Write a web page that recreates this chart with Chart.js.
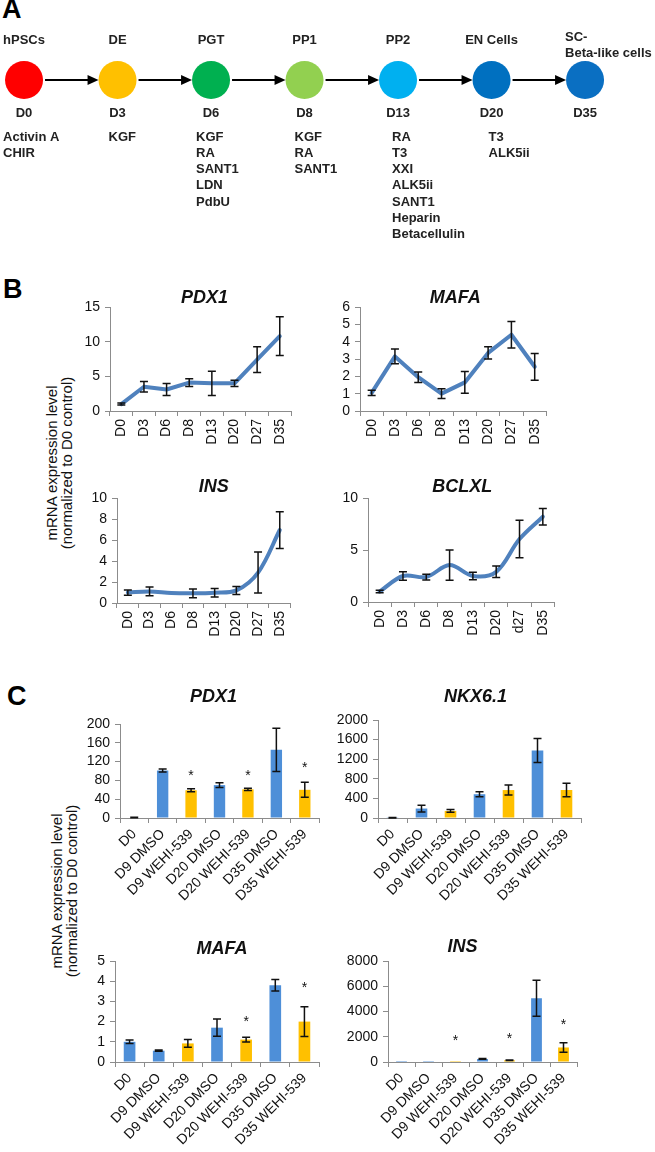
<!DOCTYPE html>
<html>
<head>
<meta charset="utf-8">
<script src="https://cdn.jsdelivr.net/npm/chart.js@4.4.1/dist/chart.umd.min.js"></script>
<style>
  body { margin: 0; background: #fff; width: 655px; height: 1152px; position: relative; overflow: hidden;
         font-family: Arial, "Liberation Sans", sans-serif; }
  canvas { position: absolute; }
  .lbl { position: absolute; font-weight: bold; font-size: 27px; line-height: 27px; color: #000; }
  .ytitle { position: absolute; width: 260px; height: 30px; text-align: center; font-size: 15px; line-height: 15px;
            transform: rotate(-90deg); color: #111; }
</style>
</head>
<body>
<div class="lbl" style="left:2px;top:-4px">A</div>
<div class="lbl" style="left:3px;top:276px">B</div>
<div class="lbl" style="left:7px;top:683px">C</div>
<div class="ytitle" style="left:-71px;top:448px">mRNA expression level<br>(normalized to D0 control)</div>
<div class="ytitle" style="left:-66px;top:876px">mRNA expression level<br>(normalized to D0 control)</div>

<script>
// panel A: differentiation protocol
const stages = ['hPSCs', 'DE', 'PGT', 'PP1', 'PP2', 'EN Cells', ['SC-', 'Beta-like cells']];
const stageDays = ['D0', 'D3', 'D6', 'D8', 'D13', 'D20', 'D35'];
const stageFactors = [
  ['Activin A', 'CHIR'],
  ['KGF'],
  ['KGF', 'RA', 'SANT1', 'LDN', 'PdbU'],
  ['KGF', 'RA', 'SANT1'],
  ['RA', 'T3', 'XXI', 'ALK5ii', 'SANT1', 'Heparin', 'Betacellulin'],
  ['T3', 'ALK5ii'],
  []
];
const stageColors = ['#ff0000', '#ffc000', '#00b050', '#92d050', '#00b0f0', '#0070c0', '#0a6fc2'];

// panel B: time course
const timeDays = ['D0', 'D3', 'D6', 'D8', 'D13', 'D20', 'D27', 'D35'];
const timeDaysBclxl = ['D0', 'D3', 'D6', 'D8', 'D13', 'D20', 'd27', 'D35'];
const pdx1Time = [1.0, 3.5, 3.1, 4.1, 4.0, 4.0, 7.4, 10.8];
const pdx1TimeErr = [0.15, 0.75, 0.85, 0.55, 1.75, 0.45, 1.85, 2.8];
const mafaTime = [1.05, 3.15, 1.95, 1.0, 1.65, 3.35, 4.4, 2.55];
const mafaTimeErr = [0.15, 0.42, 0.3, 0.28, 0.63, 0.35, 0.77, 0.77];
const insTime = [1.0, 1.1, 0.95, 0.92, 0.98, 1.2, 2.9, 6.95];
const insTimeErr = [0.25, 0.42, 0, 0.42, 0.4, 0.38, 1.95, 1.75];
const bclxlTime = [1.0, 2.5, 2.4, 3.55, 2.5, 2.9, 6.05, 8.2];
const bclxlTimeErr = [0.12, 0.42, 0.28, 1.45, 0.37, 0.55, 1.8, 0.8];

// panel C: DMSO vs WEHI-539
const groups = ['D0', 'D9 DMSO', 'D9 WEHI-539', 'D20 DMSO', 'D20 WEHI-539', 'D35 DMSO', 'D35 WEHI-539'];
const pdx1Group = [1, 101, 59, 70, 61, 145, 60];
const pdx1GroupErr = [0.5, 3, 3, 5, 2.5, 46, 16];
const pdx1GroupStar = [null, null, 98, null, 98, null, 115];
const nkxGroup = [5, 193, 145, 485, 570, 1380, 572];
const nkxGroupErr = [3, 68, 28, 52, 103, 245, 138];
const nkxGroupStar = [null, null, null, null, null, null, null];
const mafaGroup = [1.0, 0.56, 0.92, 1.7, 1.11, 3.8, 2.0];
const mafaGroupErr = [0.09, 0.03, 0.19, 0.43, 0.12, 0.28, 0.74];
const mafaGroupStar = [null, null, null, null, 2.2, null, 3.85];
const insGroup = [1, 5, 5, 240, 130, 5050, 1150];
const insGroupErr = [0, 0, 0, 30, 20, 1420, 380];
const insGroupStar = [null, null, 2000, null, 2150, null, 3280];

const BLUE = '#4e8fd8';
const YELLOW = '#ffc000';
const LINE = '#4f81bd';
const AXIS = '#8c8c8c';

Chart.defaults.font.family = 'Arial, "Liberation Sans", sans-serif';
Chart.defaults.color = '#111';

function addCanvas(g) {
  const c = document.createElement('canvas');
  c.width = g.w; c.height = g.h;
  c.style.left = g.left + 'px'; c.style.top = g.top + 'px';
  document.body.appendChild(c);
  return c;
}

// title, error bars and asterisks
const annotate = {
  id: 'annotate',
  afterDatasetsDraw(chart, args, o) {
    const ctx = chart.ctx, a = chart.chartArea;
    const meta = chart.getDatasetMeta(0), ys = chart.scales.y;
    const vals = chart.data.datasets[0].data;
    ctx.save();
    ctx.strokeStyle = '#111';
    ctx.lineWidth = 1.5;
    vals.forEach((v, i) => {
      const e = o.err[i];
      if (!e) return;
      const x = meta.data[i].x;
      const t = ys.getPixelForValue(v + e), b = ys.getPixelForValue(Math.max(v - e, 0));
      ctx.beginPath();
      ctx.moveTo(x, t); ctx.lineTo(x, b);
      ctx.moveTo(x - 4, t); ctx.lineTo(x + 4, t);
      ctx.moveTo(x - 4, b); ctx.lineTo(x + 4, b);
      ctx.stroke();
    });
    if (o.stars) {
      ctx.fillStyle = '#111';
      ctx.font = '14px Arial, "Liberation Sans"';
      ctx.textAlign = 'center';
      ctx.textBaseline = 'alphabetic';
      o.stars.forEach((s, i) => {
        if (s == null) return;
        ctx.fillText('*', meta.data[i].x, ys.getPixelForValue(s) + 8);
      });
    }
    ctx.fillStyle = '#111';
    ctx.font = 'italic bold 18px Arial, "Liberation Sans"';
    ctx.textAlign = 'center';
    ctx.textBaseline = 'middle';
    ctx.fillText(o.title, (a.left + a.right) / 2 + o.tdx, a.top - o.tdy);
    ctx.restore();
  }
};

function yAxis(max, step, width) {
  return {
    min: 0, max: max,
    ticks: { stepSize: step, autoSkip: false, font: { size: 14 }, color: '#111', padding: 5, callback: v => String(v) },
    grid: { drawOnChartArea: false, tickLength: 5, color: AXIS },
    border: { color: AXIS },
    afterFit: s => { s.width = width; }
  };
}

function xAxis(rot, height) {
  return {
    offset: true,
    ticks: { minRotation: rot, maxRotation: rot, autoSkip: false, font: { size: 14 }, color: '#111', padding: 3 },
    grid: { offset: true, drawOnChartArea: false, tickLength: 5, color: AXIS },
    border: { color: AXIS },
    afterFit: s => { s.height = height; }
  };
}

function baseOptions(g, yMax, yStep, rot, o) {
  return {
    responsive: false,
    animation: false,
    layout: { padding: { top: g.padTop, right: g.padRight, left: 0, bottom: 0 } },
    scales: { x: xAxis(rot, g.xH), y: yAxis(yMax, yStep, g.yW) },
    plugins: { legend: { display: false }, tooltip: { enabled: false }, annotate: o }
  };
}

function lineChart(g, labels, values, errs, title, yMax, yStep, smooth) {
  new Chart(addCanvas(g), {
    type: 'line',
    data: {
      labels: labels,
      datasets: [{
        data: values, borderColor: LINE, borderWidth: 4, pointRadius: 0,
        tension: smooth ? 0.35 : 0, borderJoinStyle: 'round', borderCapStyle: 'round'
      }]
    },
    options: baseOptions(g, yMax, yStep, 90, { title: title, err: errs, tdx: g.tdx, tdy: g.tdy }),
    plugins: [annotate]
  });
}

function barChart(g, values, errs, stars, title, yMax, yStep) {
  new Chart(addCanvas(g), {
    type: 'bar',
    data: {
      labels: groups,
      datasets: [{
        data: values,
        backgroundColor: groups.map(s => s.includes('WEHI') ? YELLOW : BLUE),
        barPercentage: 0.4, categoryPercentage: 1
      }]
    },
    options: baseOptions(g, yMax, yStep, 45, { title: title, err: errs, stars: stars, tdx: g.tdx, tdy: g.tdy }),
    plugins: [annotate]
  });
}

// panel A
const stagePlugin = {
  id: 'stages',
  afterDraw(chart) {
    const ctx = chart.ctx;
    const pts = chart.getDatasetMeta(0).data;
    const r = 19;
    const factorDx = [-21, -9, -15, -10, -6, -3, 0];
    ctx.save();
    ctx.strokeStyle = '#000';
    ctx.fillStyle = '#000';
    ctx.lineWidth = 2;
    for (let i = 0; i < pts.length - 1; i++) {
      const x0 = pts[i].x + r + 2, x1 = pts[i + 1].x - r, y = pts[i].y;
      ctx.beginPath();
      ctx.moveTo(x0, y); ctx.lineTo(x1 - 8, y);
      ctx.stroke();
      ctx.beginPath();
      ctx.moveTo(x1, y); ctx.lineTo(x1 - 11, y - 5); ctx.lineTo(x1 - 11, y + 5);
      ctx.closePath();
      ctx.fill();
    }
    ctx.fillStyle = '#222';
    ctx.font = 'bold 13px Arial, "Liberation Sans"';
    ctx.textBaseline = 'middle';
    pts.forEach((p, i) => {
      const s = stages[i];
      if (Array.isArray(s)) {
        ctx.textAlign = 'left';
        ctx.fillText(s[0], p.x - 20, p.y - 43);
        ctx.fillText(s[1], p.x - 20, p.y - 27);
      } else {
        ctx.textAlign = 'center';
        ctx.fillText(s, p.x, p.y - 40);
      }
      ctx.textAlign = 'center';
      ctx.fillText(stageDays[i], p.x, p.y + 33);
      ctx.textAlign = 'left';
      stageFactors[i].forEach((f, k) => ctx.fillText(f, p.x + factorDx[i], p.y + 57 + k * 16.3));
    });
    ctx.restore();
  }
};

new Chart(addCanvas({ left: 0, top: 0, w: 655, h: 250 }), {
  type: 'scatter',
  data: {
    datasets: [{
      data: stages.map((s, i) => ({ x: i, y: 0 })),
      pointRadius: 19, pointHoverRadius: 19, pointBorderWidth: 0,
      pointBackgroundColor: stageColors, pointBorderColor: stageColors
    }]
  },
  options: {
    responsive: false, animation: false, clip: false,
    layout: { autoPadding: false, padding: { top: 0, bottom: 90, left: 0, right: 0 } },
    scales: { x: { display: false, min: -0.257, max: 6.748 }, y: { display: false, min: -1, max: 1 } },
    plugins: { legend: { display: false }, tooltip: { enabled: false } }
  },
  plugins: [stagePlugin]
});

// panel B
lineChart({ left: 50, top: 280, w: 250, h: 180, yW: 60, xH: 49, padTop: 27, padRight: 7, tdx: 4, tdy: 9 },
  timeDays, pdx1Time, pdx1TimeErr, 'PDX1', 15, 5, false);
lineChart({ left: 310, top: 280, w: 245, h: 180, yW: 50, xH: 49, padTop: 27, padRight: 8, tdx: 2, tdy: 9 },
  timeDays, mafaTime, mafaTimeErr, 'MAFA', 6, 1, false);
lineChart({ left: 57, top: 470, w: 243, h: 180, yW: 60, xH: 47, padTop: 28, padRight: 7, tdx: 10, tdy: 11 },
  timeDays, insTime, insTimeErr, 'INS', 10, 2, true);
lineChart({ left: 318, top: 470, w: 245, h: 180, yW: 50, xH: 48, padTop: 28, padRight: 6, tdx: 1, tdy: 11 },
  timeDaysBclxl, bclxlTime, bclxlTimeErr, 'BCLXL', 10, 5, true);

// panel C
barChart({ left: 40, top: 670, w: 285, h: 250, yW: 80, xH: 102, padTop: 54, padRight: 6, tdx: -6, tdy: 27 },
  pdx1Group, pdx1GroupErr, pdx1GroupStar, 'PDX1', 200, 40);
barChart({ left: 310, top: 670, w: 280, h: 250, yW: 68, xH: 102, padTop: 50, padRight: 9, tdx: -4, tdy: 23 },
  nkxGroup, nkxGroupErr, nkxGroupStar, 'NKX6.1', 2000, 400);
barChart({ left: 40, top: 920, w: 285, h: 232, yW: 75, xH: 90, padTop: 41, padRight: 6, tdx: 5, tdy: 12 },
  mafaGroup, mafaGroupErr, mafaGroupStar, 'MAFA', 5, 1);
barChart({ left: 310, top: 920, w: 275, h: 232, yW: 78, xH: 90, padTop: 41, padRight: 8, tdx: -20, tdy: 14 },
  insGroup, insGroupErr, insGroupStar, 'INS', 8000, 2000);
</script>
</body>
</html>
